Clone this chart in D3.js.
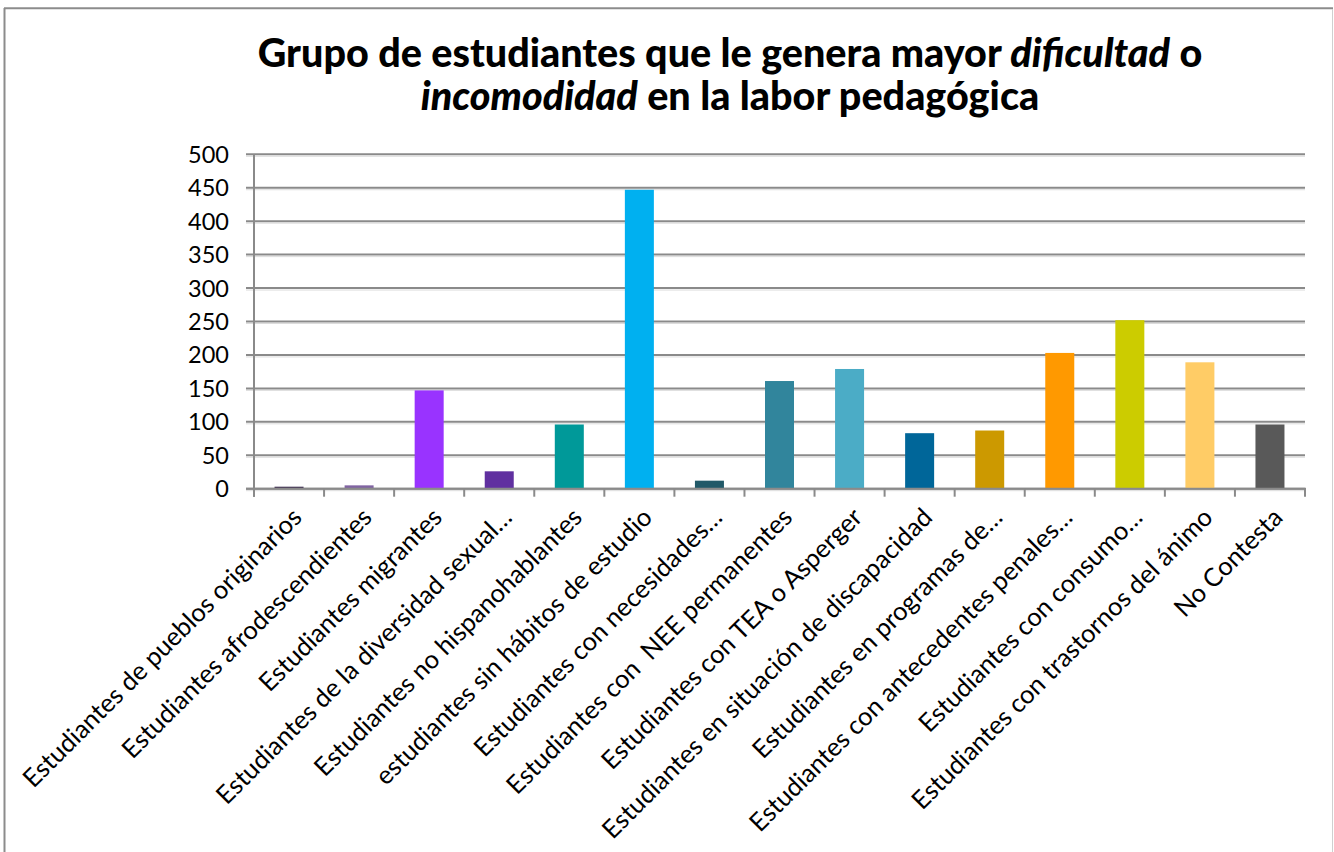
<!DOCTYPE html>
<html><head><meta charset="utf-8">
<script src="https://cdn.jsdelivr.net/npm/d3@7"></script>
<style>
html,body{margin:0;padding:0;background:#fff;}
svg{display:block;}
</style></head>
<body>
<svg id="chart" width="1334" height="852"></svg>
<script>
const categories = [
  "Estudiantes de pueblos originarios",
  "Estudiantes afrodescendientes",
  "Estudiantes migrantes",
  "Estudiantes de la diversidad sexual…",
  "Estudiantes no hispanohablantes",
  "estudiantes sin hábitos de estudio",
  "Estudiantes con necesidades…",
  "Estudiantes con  NEE permanentes",
  "Estudiantes con TEA o Asperger",
  "Estudiantes en situación de discapacidad",
  "Estudiantes en programas de…",
  "Estudiantes con antecedentes penales…",
  "Estudiantes con consumo…",
  "Estudiantes con trastornos del ánimo",
  "No Contesta"
];
const values = [3, 5, 147, 26, 96, 447, 12, 161, 179, 83, 87, 203, 252, 189, 96];
const colors = ["#403152", "#8064a2", "#9933ff", "#6030a0", "#009999", "#00b0f0",
                "#215968", "#31859c", "#4bacc6", "#006699", "#cc9900", "#ff9900",
                "#cccc00", "#ffcc66", "#595959"];
const yTicks = [0, 50, 100, 150, 200, 250, 300, 350, 400, 450, 500];
const titleLine1 = [["Grupo de estudiantes que le genera mayor ", false], ["dificultad", true], [" o", false]];
const titleLine2 = [["incomodidad", true], [" en la labor pedagógica", false]];

const svg = d3.select("#chart");
const margin = {left: 254, right: 1305, top: 154.3, bottom: 488.7};

// frame
svg.append("line").attr("x1", 4.5).attr("x2", 4.5).attr("y1", 8).attr("y2", 852)
  .attr("stroke", "#8c8c8c").attr("stroke-width", 2);
svg.append("line").attr("x1", 4).attr("x2", 1333).attr("y1", 8.3).attr("y2", 8.3)
  .attr("stroke", "#8c8c8c").attr("stroke-width", 2);
svg.append("line").attr("x1", 1332.5).attr("x2", 1332.5).attr("y1", 9).attr("y2", 852)
  .attr("stroke", "#d0d0d0").attr("stroke-width", 1);

const x = d3.scaleBand().domain(categories).range([margin.left, margin.right]).paddingInner(0.586).paddingOuter(0.293);
const xOuter = d3.scaleBand().domain(categories).range([margin.left, margin.right]).padding(0);
const y = d3.scaleLinear().domain([0, 500]).range([margin.bottom, margin.top]);

// gridlines (with light shadow)
const grid = svg.append("g");
yTicks.forEach(t => {
  grid.append("line").attr("x1", margin.left - 8).attr("x2", margin.right)
    .attr("y1", y(t) + 2).attr("y2", y(t) + 2).attr("stroke", "#dcdcdc").attr("stroke-width", 1);
  grid.append("line").attr("x1", margin.left - 8).attr("x2", margin.right)
    .attr("y1", y(t)).attr("y2", y(t)).attr("stroke", "#8a8a8a").attr("stroke-width", 2);
});

// y axis line
svg.append("line").attr("x1", margin.left).attr("x2", margin.left)
  .attr("y1", margin.top).attr("y2", margin.bottom + 8)
  .attr("stroke", "#8a8a8a").attr("stroke-width", 2);

// y labels
svg.append("g").selectAll("text").data(yTicks).join("text")
  .attr("x", 229).attr("y", d => y(d)).attr("dy", "0.36em")
  .attr("text-anchor", "end")
  .style("font-family", "Lato, 'Open Sans', sans-serif").style("font-size", "23.5px").attr("fill", "#000")
  .text(d => d);

// bars
svg.append("g").selectAll("rect").data(values).join("rect")
  .attr("x", (d, i) => x(categories[i]))
  .attr("width", x.bandwidth())
  .attr("y", d => y(d))
  .attr("height", d => y(0) - y(d))
  .attr("fill", (d, i) => colors[i]);

// baseline
svg.append("line").attr("x1", margin.left - 8).attr("x2", margin.right + 1)
  .attr("y1", margin.bottom).attr("y2", margin.bottom)
  .attr("stroke", "#8a8a8a").attr("stroke-width", 2);

// x ticks at category boundaries
const bounds = categories.map(c => xOuter(c)).concat([margin.right]);
svg.append("g").selectAll("line").data(bounds).join("line")
  .attr("x1", d => d).attr("x2", d => d)
  .attr("y1", margin.bottom).attr("y2", margin.bottom + 8)
  .attr("stroke", "#8a8a8a").attr("stroke-width", 2);

// x labels
svg.append("g").selectAll("text").data(categories).join("text")
  .attr("transform", d => `translate(${xOuter(d) + xOuter.bandwidth() / 2 + 8},${margin.bottom + 24}) rotate(-45)`)
  .attr("text-anchor", "end")
  .attr("dy", "0.35em")
  .style("font-family", "Lato, 'Open Sans', sans-serif").style("font-size", "25.5px").attr("fill", "#000")
  .style("white-space", "pre")
  .text(d => d);

// title
const title = svg.append("text").attr("text-anchor", "middle")
  .style("font-family", "Lato, 'Open Sans', sans-serif").style("font-weight", "900")
  .style("font-size", "39.5px").attr("fill", "#000");
const l1 = title.append("tspan").attr("x", 730).attr("y", 67);
titleLine1.forEach(([t, it]) => l1.append("tspan").style("font-style", it ? "italic" : "normal").text(t));
const l2 = title.append("tspan").attr("x", 730).attr("y", 110);
titleLine2.forEach(([t, it]) => l2.append("tspan").style("font-style", it ? "italic" : "normal").text(t));
</script>
</body></html>
